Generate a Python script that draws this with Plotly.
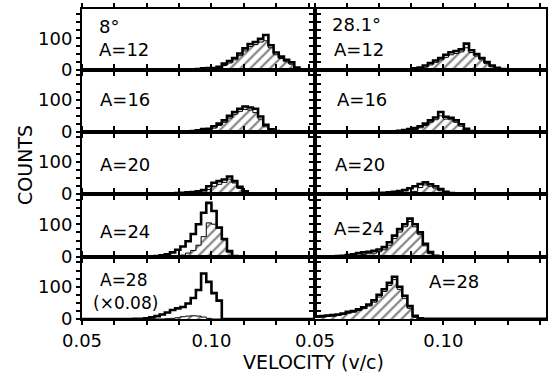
import plotly.graph_objects as go

# bin edges (v/c), width 0.002 from 0.05 to 0.14
bin_start = 0.05
bin_width = 0.002
n_bins = 45
edges = [round(bin_start + bin_width * i, 4) for i in range(n_bins + 1)]

# ---- 8 degrees (left column) ----
l12_total = [1]*10 + [1,1,1,1,1,2,2,2,2,2] + [2,2,3,5,6,6,10,20,28,38] + [52,68,82,88,98,110,78,55,42,32] + [24,8,2,2,2]
l12_hatch = [0]*10 + [0]*10 + [0,0,0,2,3,3,6,14,22,32] + [45,60,74,80,88,92,70,48,36,26] + [18,4,0,0,0]

l16_total = [1]*10 + [1,1,1,1,1,1,1,1,2,2] + [2,3,5,9,10,18,26,36,50,62] + [72,79,76,72,48,22,8,3,1,1] + [1,1,1,1,1]
l16_hatch = [0]*10 + [0]*10 + [0,0,2,5,6,12,20,30,43,55] + [64,70,68,60,40,16,4,0,0,0] + [0,0,0,0,0]

l20_total = [1]*10 + [1,1,1,1,1,1,1,2,3,4] + [5,6,8,12,24,35,40,45,54,40] + [22,8,2,1,1,1,1,1,1,1] + [1,1,1,1,1]
l20_hatch = [0]*10 + [0]*10 + [0,0,2,5,14,24,30,36,46,34] + [17,4,0,0,0,0,0,0,0,0] + [0,0,0,0,0]

l24_total = [1]*10 + [1,1,2,2,3,5,8,14,22,32] + [48,70,100,135,165,140,90,55,18,3] + [1]*10 + [1,1,1,1,1]
l24_hatch = [0]*10 + [0,0,0,0,0,0,0,0,3,6] + [12,20,36,62,104,100,88,52,15,0] + [0]*10 + [0,0,0,0,0]

l28_total = [0]*10 + [1,1,2,5,9,14,20,28,33,37] + [48,65,90,141,115,80,57,0,0,0] + [0]*10 + [0,0,0,0,0]
l28_hatch = [0]*10 + [0,0,0,0,0,0,1,2,4,7] + [9,10,9,6,2,0,0,0,0,0] + [0]*10 + [0,0,0,0,0]

# ---- 28.1 degrees (right column) ----
r12_total = [1]*10 + [1,1,1,1,1,1,1,1,2,5] + [8,14,22,30,38,48,56,60,65,83] + [62,50,38,25,14,7,3,2,2,2] + [2,2,2,2,2]
r12_hatch = [0]*10 + [0,0,0,0,0,0,0,0,0,2] + [4,9,16,24,32,40,48,52,57,70] + [55,44,32,20,10,3,0,0,0,0] + [0,0,0,0,0]

r16_total = [1]*10 + [1,1,1,1,1,2,4,6,9,12] + [18,26,36,45,62,47,44,36,24,10] + [3,1,1,1,1,1,1,1,1,1] + [1,1,1,1,1]
r16_hatch = [0]*10 + [0,0,0,0,0,0,1,3,5,8] + [13,20,30,38,50,40,38,30,18,6] + [0]*10 + [0,0,0,0,0]

r20_total = [1]*10 + [2,3,3,4,5,7,9,12,18,24] + [31,36,30,24,15,7,3,1,1,1] + [1]*10 + [1,1,1,1,1]
r20_hatch = [0]*10 + [0,0,0,0,0,0,0,0,3,8] + [20,28,24,18,10,3,0,0,0,0] + [0]*10 + [0,0,0,0,0]

r24_total = [1,1,2,2,3,4,6,8,12,14] + [16,19,23,30,45,65,85,100,117,100] + [75,40,15,4,1,1,1,1,1,1] + [1]*10 + [1,1,1,1,1]
r24_hatch = [0,0,0,0,0,0,2,4,6,8] + [10,12,16,22,36,56,76,92,108,92] + [68,34,10,0,0,0,0,0,0,0] + [0]*10 + [0,0,0,0,0]

r28_total = [8,9,11,12,14,17,22,25,30,36] + [45,58,75,92,112,131,100,72,40,10] + [2,1,1,1,1,1,1,1,1,1] + [1]*10 + [1,1,1,1,1]
r28_hatch = [5,6,8,9,11,14,18,21,26,32] + [40,52,68,85,104,122,92,64,33,5] + [0]*10 + [0]*10 + [0,0,0,0,0]

panels = [
    (l12_total, l12_hatch), (r12_total, r12_hatch),
    (l16_total, l16_hatch), (r16_total, r16_hatch),
    (l20_total, l20_hatch), (r20_total, r20_hatch),
    (l24_total, l24_hatch), (r24_total, r24_hatch),
    (l28_total, l28_hatch), (r28_total, r28_hatch),
]

y_tickvals = [0, 25, 50, 75, 100, 125, 150, 175]
y_ticktext = ["0", "", "", "", "100", "", "", ""]
x_tickvals = [0.05, 0.0625, 0.075, 0.0875, 0.10, 0.1125, 0.125, 0.1375]
x_ticktext = ["0.05", "", "", "", "0.10", "", "", ""]

W, H = 548, 375
col_px = [(82, 315), (315, 546)]
row_px = [(9, 70), (70, 132), (132, 194), (194, 257), (257, 319)]

FONT = "DejaVu Sans"
fig = go.Figure()
layout = {}

for idx, (tot, hat) in enumerate(panels):
    r, c = divmod(idx, 2)
    n = idx + 1
    xa = "x" if n == 1 else f"x{n}"
    ya = "y" if n == 1 else f"y{n}"
    fig.add_trace(go.Scatter(
        x=edges, y=hat + [hat[-1]], xaxis=xa, yaxis=ya,
        mode="lines", line=dict(shape="hv", color="black", width=1),
        fill="tozeroy", fillcolor="white",
        fillpattern=dict(shape="/", fgcolor="black", bgcolor="white", size=7, solidity=0.3),
        hoverinfo="skip", showlegend=False))
    fig.add_trace(go.Scatter(
        x=edges, y=tot + [tot[-1]], xaxis=xa, yaxis=ya,
        mode="lines", line=dict(shape="hv", color="black", width=2.6),
        hoverinfo="skip", showlegend=False))
    x0, x1 = col_px[c]
    y0, y1 = row_px[r]
    xkey = "xaxis" if n == 1 else f"xaxis{n}"
    ykey = "yaxis" if n == 1 else f"yaxis{n}"
    layout[xkey] = dict(
        domain=[x0 / W, x1 / W], anchor=ya, range=[0.05, 0.14], automargin=False,
        showline=True, linecolor="black", linewidth=2, mirror="allticks",
        ticks="outside", ticklen=4, tickwidth=1.5, tickcolor="black",
        tickvals=x_tickvals, ticktext=x_ticktext,
        showticklabels=(r == 4), showgrid=False, zeroline=False,
        tickfont=dict(family=FONT, size=18, color="black"), fixedrange=True)
    layout[ykey] = dict(
        domain=[1 - y1 / H, 1 - y0 / H], anchor=xa, range=[0, 192], automargin=False,
        showline=True, linecolor="black", linewidth=2, mirror="allticks",
        ticks="outside", ticklen=4, tickwidth=1.5, tickcolor="black",
        tickvals=y_tickvals, ticktext=y_ticktext,
        showticklabels=(c == 0), showgrid=False, zeroline=False,
        tickfont=dict(family=FONT, size=18, color="black"), fixedrange=True)

labels = [
    ("8°", 97, 26, 18), ("A=12", 97, 50, 18), ("A=16", 98, 99, 18), ("A=20", 98, 165, 18),
    ("A=24", 98, 231, 18), ("A=28", 98, 280, 17), ("(×0.08)", 91, 303, 17),
    ("28.1°", 330, 25, 18), ("A=12", 332, 49, 18), ("A=16", 335, 99, 18), ("A=20", 333, 164, 18),
    ("A=24", 332, 228, 18), ("A=28", 427, 281, 18),
]
annotations = []
for text, px, py, fs in labels:
    annotations.append(dict(text=text, x=px / W, y=1 - py / H, xref="paper", yref="paper",
                            xanchor="left", yanchor="middle", showarrow=False,
                            font=dict(family=FONT, size=fs, color="black")))
annotations.append(dict(text="COUNTS", x=25 / W, y=1 - 165 / H, xref="paper", yref="paper",
                        textangle=-90, showarrow=False, xanchor="center", yanchor="middle",
                        font=dict(family=FONT, size=19, color="black")))
annotations.append(dict(text="VELOCITY (v/c)", x=313 / W, y=1 - 362 / H, xref="paper", yref="paper",
                        showarrow=False, xanchor="center", yanchor="middle",
                        font=dict(family=FONT, size=19, color="black")))

fig.update_layout(
    width=W, height=H, margin=dict(l=0, r=0, t=0, b=0, autoexpand=False),
    paper_bgcolor="white", plot_bgcolor="white",
    annotations=annotations, **layout)

fig.write_html("out.html")
